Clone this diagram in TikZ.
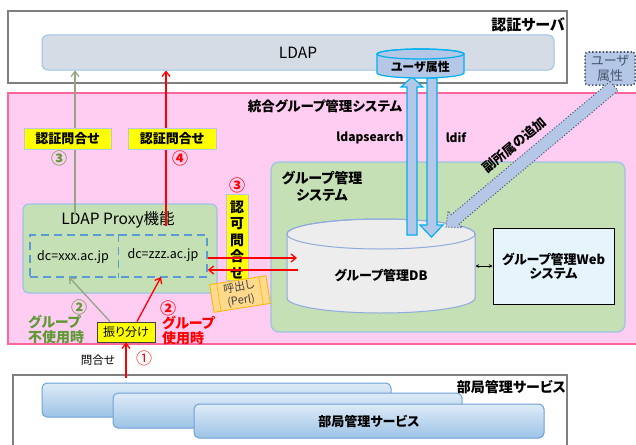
\documentclass[tikz,border=0pt]{standalone}
\usepackage{fontspec}
\setmainfont{Noto Sans CJK JP}[RawFeature={+palt}]
\usetikzlibrary{arrows.meta,calc}
\definecolor{pinkfill}{HTML}{FFCCF2}
\definecolor{pinkline}{HTML}{FF6699}
\definecolor{grfill}{HTML}{C5E0B4}
\definecolor{ltblue}{HTML}{9DC3E6}
\definecolor{ldapfill}{HTML}{D6DCE5}
\definecolor{attrfill}{HTML}{B4C7E7}
\definecolor{cyanline}{HTML}{00B0F0}
\definecolor{dbfill}{HTML}{EDEDED}
\definecolor{dbline}{HTML}{8FAADC}
\definecolor{webfill}{HTML}{E6F5FC}
\definecolor{yel}{HTML}{FFFF00}
\definecolor{yelline}{HTML}{B4C7E7}
\definecolor{grtext}{HTML}{5E9A36}
\definecolor{grline}{HTML}{92A584}
\definecolor{boxgray}{HTML}{7F7F7F}
\definecolor{dashblue}{HTML}{5B9BD5}
\definecolor{notefill}{HTML}{FFD98C}
\definecolor{noteline}{HTML}{F5B800}
\definecolor{slate}{HTML}{44546A}
\definecolor{svctop}{HTML}{DEEBF7}
\definecolor{svcbot}{HTML}{9DC3E6}
\definecolor{svcline}{HTML}{6FA0D8}
\newcommand\fsz[2]{\fontsize{#1}{#2}\selectfont}
\begin{document}
\begin{tikzpicture}[x=1pt,y=-1pt,
  txt/.style={inner sep=0pt, align=center},
  circnum/.style={inner sep=0pt, font=\bfseries\fsz{16}{17}},
  yellab/.style={fill=yel, draw=yelline, line width=0.8pt, inner sep=0pt, font=\bfseries\fsz{13}{15}},
  redarr/.style={draw=red, line width=1.3pt, -{Straight Barb[length=5pt,width=8pt]}},
  grarr/.style={draw=grline, line width=1.3pt, -{Straight Barb[length=5pt,width=8pt]}},
  fatarr/.style={fill=attrfill, draw=cyanline, line width=1.2pt, line join=miter},
  svc/.style={rounded corners=5pt, top color=svctop, bottom color=svcbot, draw=svcline, line width=1pt, minimum width=349pt, minimum height=34pt, inner sep=0pt},
  cylfill/.style={line width=1pt},
]
\useasboundingbox (0,0) rectangle (636,444);
\fill[white] (0,0) rectangle (636,444);

% ---- authentication server
\node[draw=boxgray, line width=1.5pt, fill=white, minimum width=559pt, minimum height=72pt, inner sep=0pt] (auth) at (287.5,47) {};
\node[txt, font=\bfseries\fsz{15}{17}, anchor=east] (authlbl) at (565,25) {認証サーバ};
\node[rounded corners=6pt, fill=ldapfill, draw=ltblue, line width=1pt, minimum width=512pt, minimum height=35pt, inner sep=0pt, font=\fsz{15.5}{17}] (ldap) at (298,52.5) {LDAP};

% ---- integrated group management system
\node[fill=pinkfill, draw=pinkline, line width=1.2pt, minimum width=632pt, minimum height=251pt, inner sep=0pt] (pink) at (324,218.5) {};
\node[txt, font=\bfseries\fsz{13.5}{15}] (pinktitle) at (325,106) {統合グループ管理システム};
\node[txt, font=\bfseries\fsz{12}{14}] (lsearch) at (370,138) {ldapsearch};
\node[txt, font=\bfseries\fsz{12}{14}] (ldif) at (456,138) {ldif};

% ---- group management system
\node[fill=grfill, draw=ltblue, line width=1.2pt, rounded corners=8pt, minimum width=354pt, minimum height=170pt, inner sep=0pt] (gsys) at (448,247) {};
\node[txt, font=\bfseries\fsz{14}{17}] (gsyslbl) at (322,186.5) {グループ管理\\システム};

% DB cylinder
\path[fill=dbfill, draw=dbline, cylfill] (287,234) -- (287,298) arc[start angle=180, end angle=0, x radius=94, y radius=15] -- (475,234) arc[start angle=0, end angle=-180, x radius=94, y radius=15] -- cycle;
\draw[dbline, cylfill] (381,234) ellipse [x radius=94, y radius=15];
\node[txt, font=\bfseries\fsz{13}{15}] (db) at (381,275) {グループ管理DB};
\coordinate (dbright) at (475.5,266);
\coordinate (dbin1) at (297,258);
\coordinate (dbin2) at (298,270);

\node[fill=webfill, draw=black, line width=1pt, minimum width=121pt, minimum height=76pt, inner sep=0pt, align=center, font=\bfseries\fsz{13}{14}] (web) at (553.5,266) {グループ管理Web\\システム};
\draw[{Stealth[length=3.5pt,width=3.5pt]}-{Stealth[length=3.5pt,width=3.5pt]}, line width=0.8pt] (dbright) -- (web.west);

% ---- LDAP proxy
\node[fill=grfill, draw=ltblue, line width=1.2pt, rounded corners=6pt, minimum width=194pt, minimum height=89pt, inner sep=0pt] (proxy) at (120,248.5) {};
\node[txt, font=\fsz{15.5}{17}] (proxylbl) at (118,220) {LDAP Proxy機能};
\node[draw=dashblue, line width=1.5pt, dash pattern=on 8pt off 5pt, minimum width=177pt, minimum height=42pt, inner sep=0pt] (dc) at (118.5,256) {};
\draw[dashblue, line width=1.5pt, dash pattern=on 8pt off 5pt] (dc.north) -- (dc.south);
\node[txt, font=\fsz{12.5}{14}] (dcx) at (73,257) {dc=xxx.ac.jp};
\node[txt, font=\fsz{12.5}{14}] (dcz) at (163,255) {dc=zzz.ac.jp};

% queries to LDAP
\coordinate (gq) at (75,215);
\coordinate (rq) at (166,226);
\draw[grarr] (gq) -- (ldap.south -| gq);
\draw[redarr] (rq) -- (ldap.south -| rq);
\node[yellab, minimum width=87pt, minimum height=21pt] (q1) at (67.5,138.5) {認証問合せ};
\node[yellab, minimum width=88pt, minimum height=21pt] (q2) at (172,138.5) {認証問合せ};
\node[circnum, text=grtext] (n3g) at (59,158) {③};
\node[circnum, text=red] (n4r) at (180,158) {④};

% authorization query
\node[yellab, minimum width=22pt, minimum height=86pt] (authz) at (237,237) {};
\node[txt, font=\bfseries\fsz{14}{16.5}] (authztxt) at (237,240) {認\\可\\問\\合\\せ};
\node[circnum, text=red] (n3r) at (237,185) {③};
\draw[redarr] ([yshift=-2pt]dc.east) -- (dbin1);
\draw[redarr] (dbin2) -- ([yshift=-14pt]dc.east);

% Perl note
\node[rotate=9, fill=notefill, draw=noteline, line width=0.8pt, minimum width=57pt, minimum height=28pt, inner sep=0pt, align=center, font=\fsz{11}{14}, text=black!75] (perl) at (240,294) {呼出し\\(Perl)};
\draw[noteline, line width=0.6pt] ($(perl.north west)!0.13!(perl.north east)$) -- ($(perl.south west)!0.13!(perl.south east)$);
\draw[noteline, line width=0.6pt] ($(perl.north west)!0.87!(perl.north east)$) -- ($(perl.south west)!0.87!(perl.south east)$);

% dispatcher
\node[fill=yel, draw=black!75, line width=1pt, minimum width=58pt, minimum height=20pt, inner sep=0pt, font=\fsz{12}{14}] (sort) at (126,332) {振り分け};
\coordinate (dcxin) at (69,277);
\coordinate (dczin) at (161,277);
\draw[grarr] ([xshift=-16pt]sort.north) -- (dcxin);
\draw[redarr] ([xshift=11pt]sort.north) -- (dczin);
\node[circnum, text=grtext] (n2g) at (79,307) {②};
\node[txt, text=grtext, font=\bfseries\fsz{14}{15}, anchor=west, align=left] (nogrp) at (28,329.5) {グループ\\不使用時};
\node[circnum, text=red] (n2r) at (168,308) {②};
\node[txt, text=red, font=\bfseries\fsz{14}{15}, anchor=west, align=left] (grp) at (162,330.5) {グループ\\使用時};

% ---- department services
\node[draw=boxgray, line width=2pt, fill=white, minimum width=554pt, minimum height=90pt, inner sep=0pt] (svcbox) at (290,420) {};
\node[txt, font=\bfseries\fsz{14}{16}, anchor=east] (svclbl) at (566,387) {部局管理サービス};
\node[svc] (svc1) at (216.5,400) {};
\node[svc, minimum height=35pt] (svc2) at (287.5,410.5) {};
\node[svc, minimum width=350pt, font=\bfseries\fsz{13}{15}] (svc3) at (369,421) {部局管理サービス};
\coordinate (qsrc) at (126,378);
\draw[redarr] (qsrc) -- (sort.south);
\node[txt, font=\fsz{11.5}{14}] (qlbl) at (98,360) {問合せ};
\node[circnum, text=red, font=\fsz{16}{17}] (n1r) at (144,358) {①};

% ---- user attribute transfer (fat arrows)
\path[fatarr] (407,235) -- (407,87) -- (401,87) -- (412,77) -- (423,87) -- (417,87) -- (417,235) -- cycle;
\path[fatarr] (427,78) -- (427,225) -- (420,225) -- (431.5,237) -- (443,225) -- (437,225) -- (437,78) -- cycle;

% user attribute cylinder
\path[fill=attrfill, draw=cyanline, line width=1.2pt] (377,54) -- (377,73) arc[start angle=180, end angle=0, x radius=43.5, y radius=5] -- (464,54) arc[start angle=0, end angle=-180, x radius=43.5, y radius=5] -- cycle;
\draw[cyanline, line width=1.2pt] (420.5,54) ellipse [x radius=43.5, y radius=5];
\node[txt, font=\bfseries\fsz{12}{14}] (uattrdb) at (420.5,67) {ユーザ属性};

% additional affiliation
\node[fill=attrfill, draw=slate, line width=1.5pt, dotted, rounded corners=3pt, minimum width=50pt, minimum height=33pt, inner sep=0pt, align=center, font=\fsz{13}{15}, text=slate] (uattr) at (610,68.5) {ユーザ\\属性};
\path[fill=attrfill, draw=slate, line width=1pt, dotted] (610.1,81.4) -- (451.3,214.7) -- (448.1,210.9) -- (446,227) -- (462.3,227.7) -- (459.1,223.9) -- (617.9,90.6) -- cycle;
\node[txt, rotate=40, font=\bfseries\fsz{13}{15}] (addlbl) at (514,145) {副所属の追加};
\end{tikzpicture}
\end{document}
